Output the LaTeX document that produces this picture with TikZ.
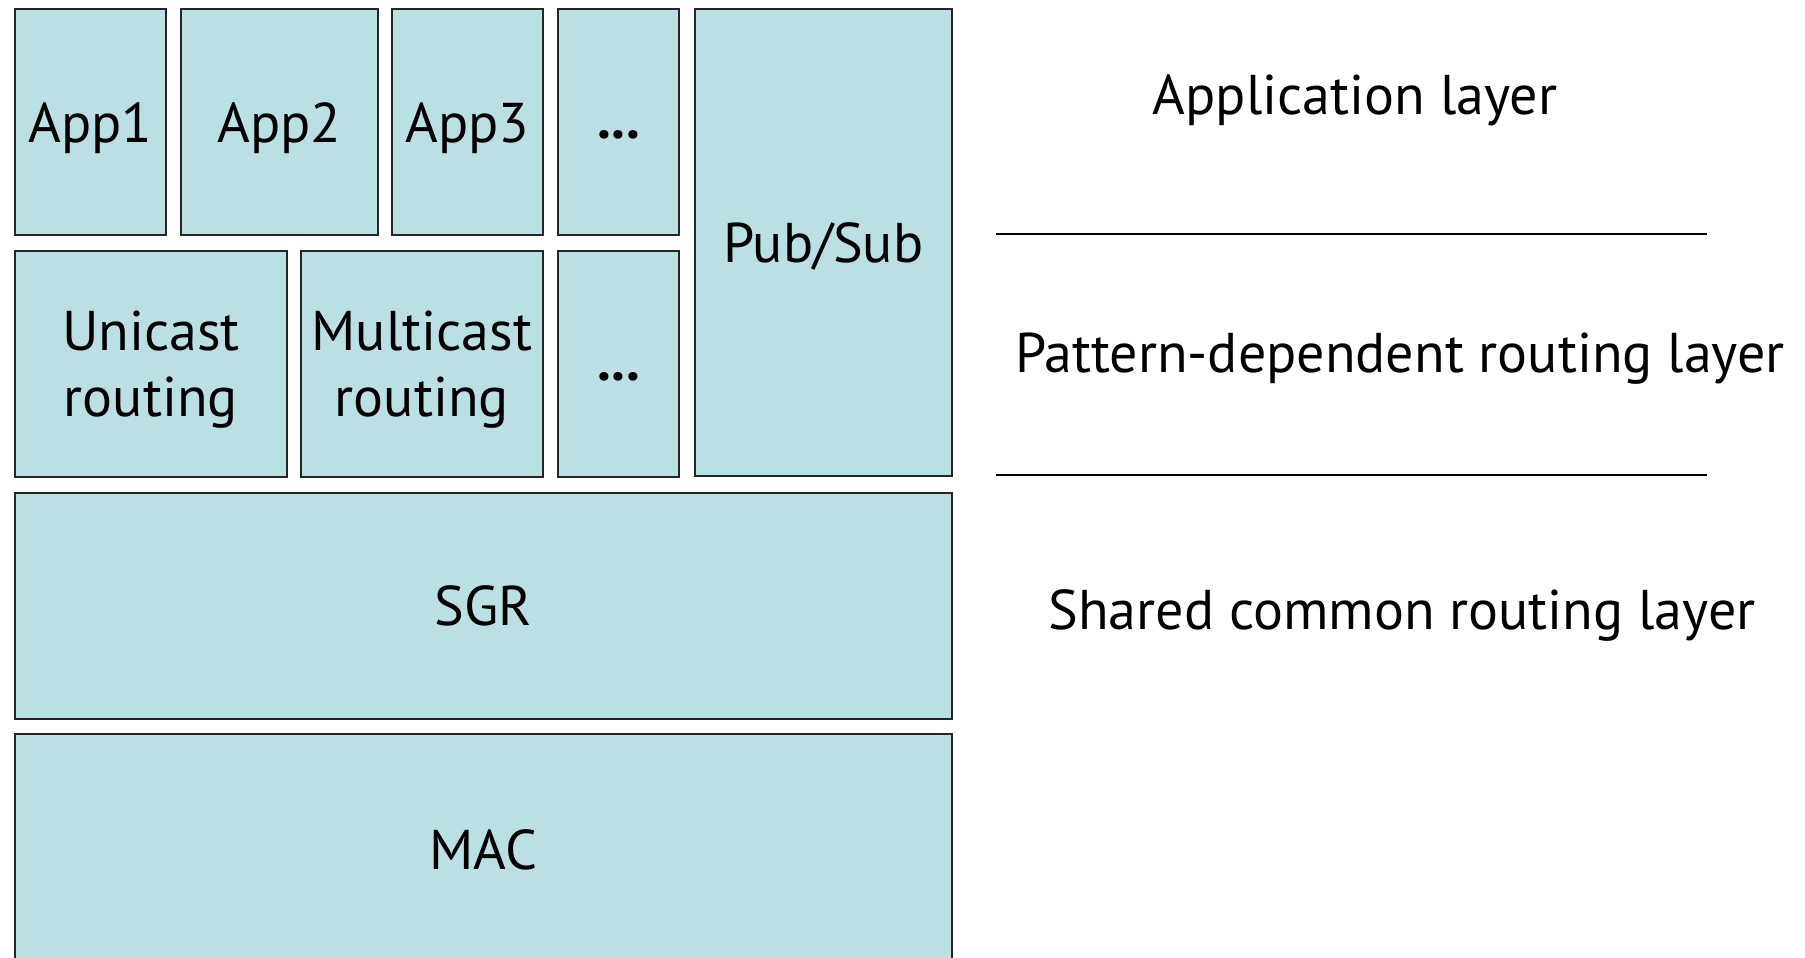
\documentclass[tikz,border=0pt]{standalone}
\usepackage{fontspec}
\setmainfont{PT Sans}
\definecolor{boxfill}{HTML}{BBE0E3}
\tikzset{
  layerbox/.style={draw=black!85, line width=1.8pt, fill=boxfill, inner sep=0pt, anchor=north west, align=center, font=\fontsize{56}{66}\selectfont},
  lbl/.style={inner sep=0pt, font=\fontsize{56}{66}\selectfont},
  sepline/.style={line width=1.5pt, black}
}
\newcommand{\shdown}[2]{\raisebox{-#1}[\height][\depth]{#2}}
\newcommand{\twolines}[2]{\shdown{6pt}{\begin{tabular}{@{}c@{}}#1\\#2\end{tabular}}}
\newcommand{\lowdots}{\shdown{13pt}{\textbf{...}}}
\begin{document}
\begin{tikzpicture}[x=1pt,y=-1pt]
\useasboundingbox (0,0) rectangle (1805,958);
\fill[white] (0,0) rectangle (1805,958);
% row 1
\node[layerbox, minimum width=151pt, minimum height=226pt] (app1) at (14,8) {\shdown{6pt}{App1}};
\node[layerbox, minimum width=197pt, minimum height=226pt] (app2) at (180,8) {\shdown{6pt}{App2}};
\node[layerbox, minimum width=151pt, minimum height=226pt] (app3) at (391,8) {\shdown{6pt}{App3}};
\node[layerbox, minimum width=121pt, minimum height=226pt] (dots1) at (557,8) {\lowdots};
\node[layerbox, minimum width=257pt, minimum height=467pt] (pubsub) at (694,8) {\shdown{4pt}{Pub/Sub}};
% row 2
\node[layerbox, minimum width=272pt, minimum height=226pt] (uni) at (14,250) {\twolines{Unicast}{routing}};
\node[layerbox, minimum width=242pt, minimum height=226pt] (multi) at (300,250) {\twolines{Multicast}{routing}};
\node[layerbox, minimum width=121pt, minimum height=226pt] (dots2) at (557,250) {\lowdots};
% lower layers
\node[layerbox, minimum width=937pt, minimum height=226pt] (sgr) at (14,492) {SGR};
\node[layerbox, minimum width=937pt, minimum height=232pt] (mac) at (14,733) {MAC};
% right labels
\coordinate (l1a) at (996,234);
\coordinate (l1b) at (1707,234);
\coordinate (l2a) at (996,475);
\coordinate (l2b) at (1707,475);
\draw[sepline] (l1a) -- (l1b);
\draw[sepline] (l2a) -- (l2b);
\node[lbl] (applayer) at (1355,100) {Application layer};
\node[lbl] (patlayer) at (1400,359) {Pattern-dependent routing layer};
\node[lbl] (sharedlayer) at (1402,615) {Shared common routing layer};
\end{tikzpicture}
\end{document}
